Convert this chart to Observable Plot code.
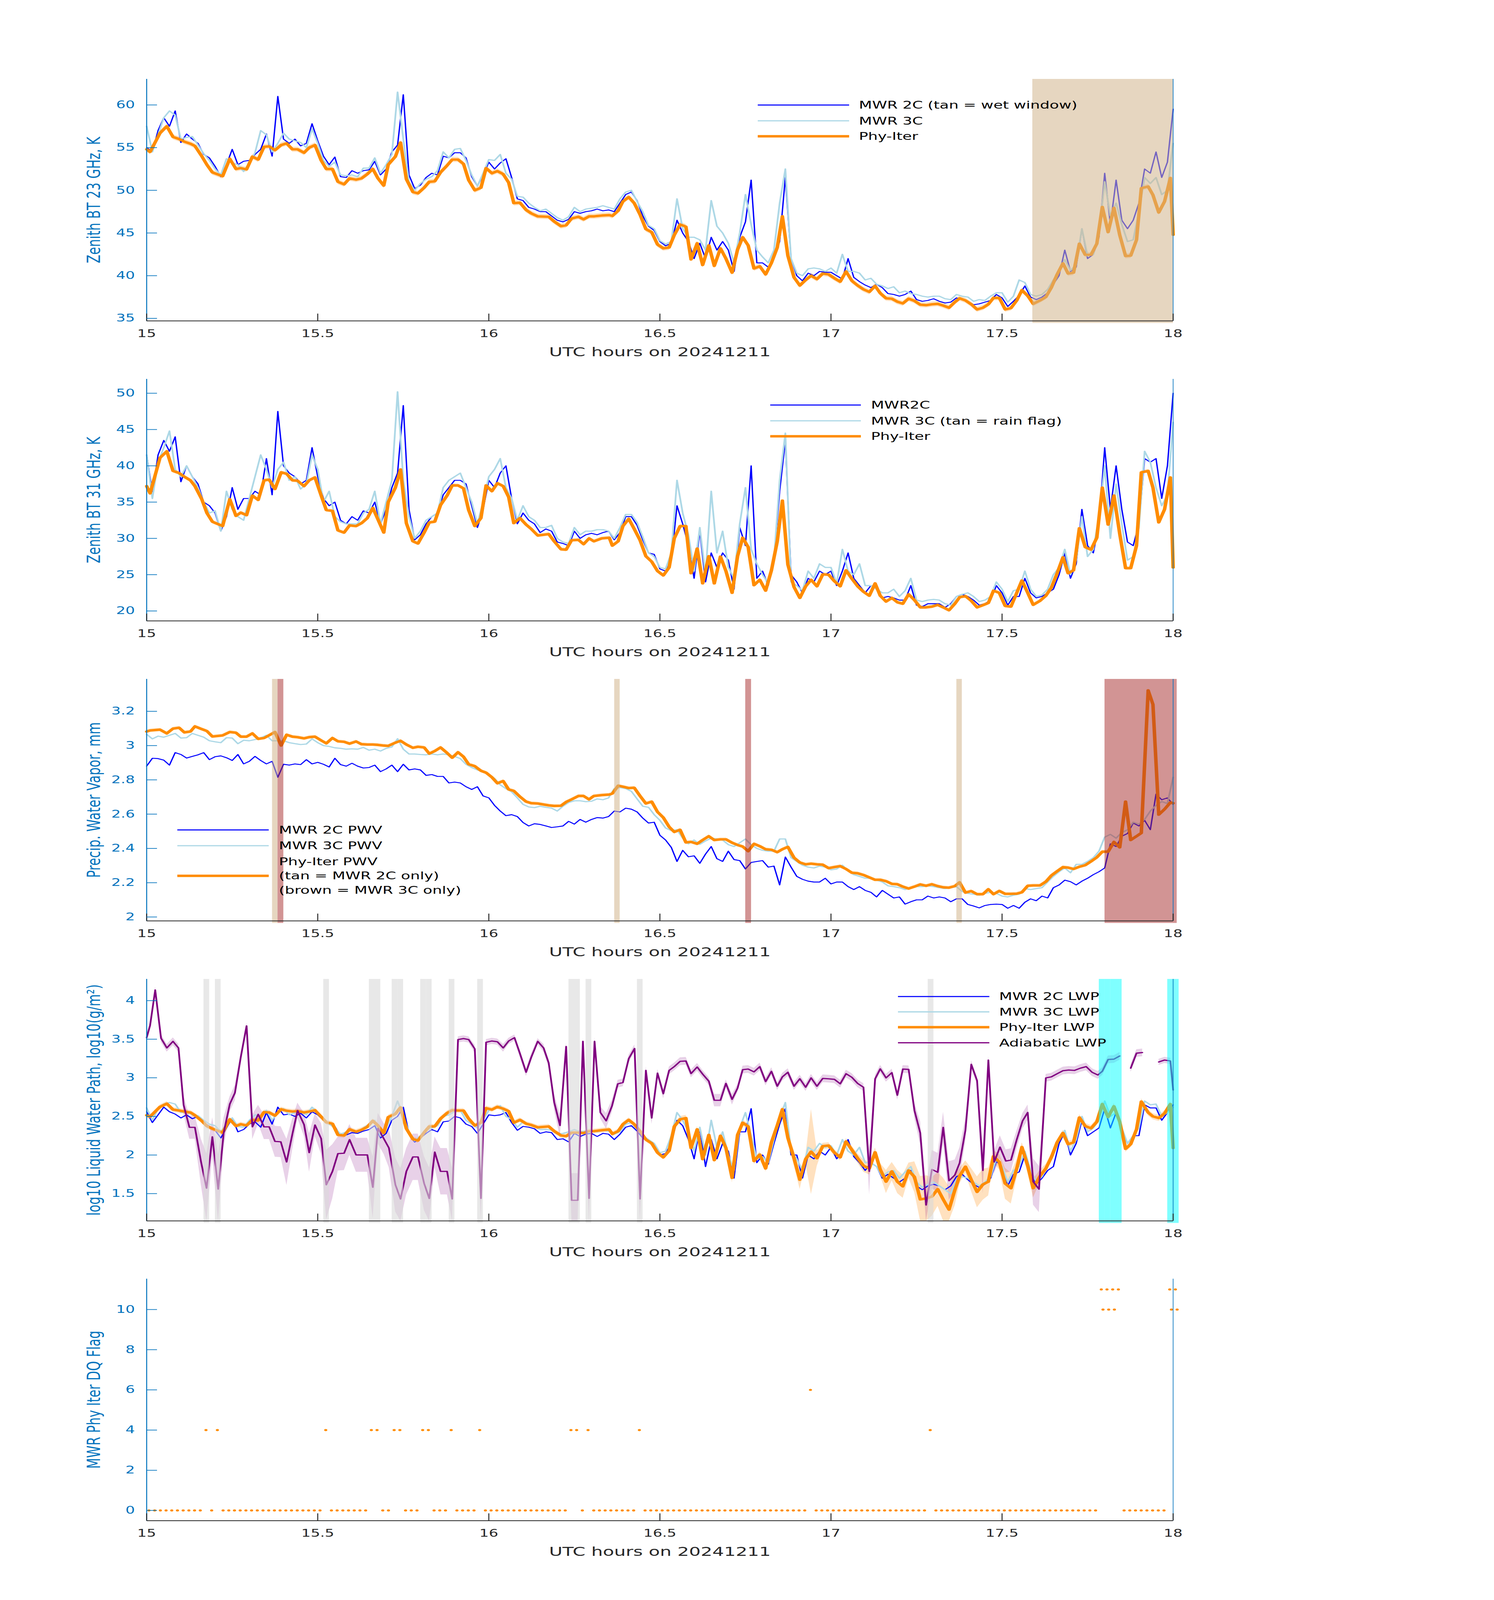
<!DOCTYPE html>
<html><head><meta charset="utf-8">
<script src="https://cdn.jsdelivr.net/npm/d3@7"></script>
<script src="https://cdn.jsdelivr.net/npm/@observablehq/plot@0.6"></script>
<style>
html,body{margin:0;padding:0;background:#fff;overflow:hidden;}
#fig{position:relative;width:3825px;height:6000px;background:#fff;font-family:"DejaVu Sans",sans-serif;overflow:hidden;transform-origin:0 0;}
#fig svg{position:absolute;left:0;overflow:visible;max-width:none;}
</style></head><body><div id="fig"></div>
<script>
const xTicks = [15, 15.5, 16, 16.5, 17, 17.5, 18];
const xLabel = "UTC hours on 20241211";
const phyT = [15.000,15.010,15.039,15.059,15.077,15.095,15.110,15.128,15.141,15.161,15.176,15.192,15.222,15.243,15.261,15.275,15.292,15.309,15.326,15.343,15.358,15.375,15.393,15.409,15.426,15.441,15.460,15.475,15.492,15.510,15.525,15.543,15.559,15.577,15.593,15.612,15.628,15.645,15.661,15.676,15.693,15.706,15.727,15.742,15.759,15.778,15.793,15.811,15.826,15.842,15.859,15.878,15.893,15.910,15.926,15.941,15.959,15.977,15.992,16.009,16.025,16.042,16.058,16.073,16.091,16.109,16.124,16.143,16.175,16.191,16.211,16.226,16.242,16.262,16.277,16.293,16.307,16.330,16.352,16.361,16.378,16.392,16.409,16.425,16.442,16.459,16.476,16.493,16.510,16.527,16.542,16.559,16.576,16.591,16.609,16.625,16.643,16.659,16.677,16.693,16.711,16.727,16.742,16.758,16.775,16.792,16.809,16.826,16.843,16.858,16.874,16.892,16.909,16.926,16.942,16.959,16.976,16.993,17.010,17.027,17.044,17.061,17.078,17.095,17.112,17.129,17.144,17.161,17.178,17.194,17.210,17.227,17.244,17.261,17.278,17.295,17.312,17.328,17.345,17.362,17.376,17.393,17.410,17.427,17.444,17.460,17.475,17.492,17.509,17.526,17.543,17.558,17.575,17.591,17.611,17.628,17.644,17.661,17.678,17.693,17.709,17.726,17.743,17.760,17.777,17.793,17.810,17.827,17.844,17.861,17.876,17.893,17.907,17.927,17.941,17.958,17.975,17.992,18.000];
const phy23 = [54.8,54.5,56.7,57.5,56.25,56.0,55.7,55.45,55.2,54.0,53.0,52.1,51.65,53.7,52.5,52.6,52.45,53.95,53.6,55.1,55.15,54.7,55.3,55.5,54.8,54.8,54.4,55.0,55.3,53.5,52.5,52.5,51.0,50.7,51.4,51.25,51.4,51.9,52.5,51.4,50.55,53.0,53.95,55.6,51.3,49.8,49.65,50.3,51.0,51.05,52.1,52.9,53.6,53.6,53.1,51.2,50.0,50.3,52.6,52.0,52.25,51.9,50.9,48.5,48.55,47.7,47.3,46.95,46.9,46.35,45.8,45.9,46.7,46.9,46.6,46.95,46.95,47.05,47.1,47.0,47.6,48.7,49.2,48.5,47.15,45.45,45.1,43.65,43.2,43.3,44.75,46.0,45.75,41.9,43.8,41.25,43.55,41.15,43.2,42.0,40.35,43.05,44.5,43.55,40.85,41.1,40.15,41.5,43.3,46.95,42.35,39.8,38.85,39.5,40.0,39.6,40.25,40.15,39.7,39.3,40.5,39.4,38.85,38.4,38.1,38.8,37.95,37.35,37.3,36.95,36.75,37.3,37.05,36.6,36.55,36.65,36.7,36.5,36.25,36.9,37.35,37.1,36.65,36.05,36.25,36.65,37.4,37.4,36.05,36.2,37.1,38.3,37.65,36.7,37.1,37.5,38.6,40.15,41.45,40.25,40.35,43.75,42.45,42.45,43.75,48.05,45.1,47.95,44.75,42.3,42.35,44.2,50.25,50.45,49.45,47.4,48.7,51.45,44.8];
const phy31 = [37.2,36.2,41.1,42.0,39.3,39.0,38.5,38.0,37.2,35.4,33.5,32.3,31.7,35.4,33.1,33.55,33.2,35.9,35.3,38.0,38.1,36.8,39.1,38.9,38.0,37.95,37.2,38.0,38.4,35.9,33.9,33.8,31.1,30.8,31.8,31.7,32.1,32.8,34.2,32.6,30.8,35.0,37.0,39.5,32.1,29.6,29.3,30.8,32.2,32.3,34.6,35.9,37.3,37.3,36.9,33.9,31.7,32.8,37.3,36.5,37.6,37.2,35.7,32.1,32.8,31.9,31.3,30.4,30.6,29.6,28.5,28.45,29.75,29.8,29.2,30.0,29.6,30.0,30.1,29.0,29.6,31.7,32.7,31.3,29.75,27.55,26.8,25.5,24.9,26.0,30.0,31.7,31.7,25.2,28.6,23.8,27.55,23.8,27.5,25.5,22.5,27.55,30.1,28.8,23.55,24.3,22.8,25.6,29.6,35.2,26.4,23.3,21.8,23.4,24.3,23.4,25.05,25.0,24.1,23.4,25.6,24.45,23.4,22.65,22.1,23.8,22.1,21.3,21.8,21.2,21.0,22.3,21.5,20.5,20.5,20.6,20.85,20.5,20.1,21.0,21.9,22.05,21.4,20.5,20.8,21.1,22.8,22.5,20.7,20.6,22.5,24.2,22.5,20.85,21.4,22.1,23.2,25.2,27.4,25.2,25.6,31.4,28.8,28.45,30.1,37.0,31.9,35.9,30.6,25.9,25.9,29.0,39.1,39.3,37.0,32.2,34.0,38.4,26.0];
const phyPwv = [3.082,3.088,3.093,3.071,3.099,3.104,3.077,3.082,3.112,3.096,3.085,3.053,3.059,3.079,3.075,3.052,3.052,3.071,3.039,3.044,3.060,3.079,3.000,3.063,3.052,3.049,3.042,3.049,3.052,3.030,3.013,3.044,3.025,3.022,3.011,3.024,3.008,3.006,3.006,3.004,3.000,2.998,3.017,3.028,3.006,2.987,2.993,2.989,2.953,2.968,2.989,2.957,2.929,2.961,2.935,2.891,2.880,2.853,2.842,2.815,2.780,2.793,2.744,2.736,2.702,2.673,2.664,2.662,2.651,2.648,2.649,2.671,2.686,2.706,2.706,2.686,2.706,2.711,2.714,2.720,2.766,2.760,2.752,2.754,2.706,2.662,2.673,2.613,2.580,2.526,2.496,2.509,2.435,2.438,2.427,2.449,2.471,2.449,2.453,2.453,2.433,2.420,2.411,2.384,2.427,2.413,2.395,2.392,2.378,2.395,2.409,2.346,2.318,2.307,2.311,2.307,2.305,2.285,2.291,2.297,2.280,2.258,2.255,2.245,2.231,2.217,2.217,2.209,2.193,2.191,2.177,2.166,2.177,2.190,2.182,2.191,2.180,2.173,2.171,2.180,2.202,2.142,2.151,2.133,2.133,2.162,2.133,2.152,2.135,2.135,2.136,2.144,2.182,2.184,2.184,2.206,2.242,2.267,2.291,2.288,2.280,2.293,2.302,2.324,2.348,2.381,2.381,2.438,2.406,2.673,2.449,2.471,2.490,3.322,3.240,2.597,2.629,2.668,2.664];
const phyLwp = [2.515,2.496,2.624,2.665,2.588,2.576,2.563,2.551,2.515,2.442,2.375,2.341,2.290,2.462,2.375,2.399,2.382,2.455,2.447,2.556,2.551,2.510,2.593,2.573,2.563,2.568,2.551,2.563,2.580,2.496,2.423,2.406,2.261,2.253,2.333,2.302,2.326,2.365,2.442,2.382,2.285,2.491,2.532,2.617,2.341,2.205,2.188,2.292,2.370,2.370,2.471,2.544,2.580,2.576,2.576,2.471,2.382,2.418,2.607,2.588,2.624,2.600,2.568,2.418,2.455,2.406,2.389,2.358,2.370,2.309,2.253,2.244,2.290,2.290,2.285,2.309,2.309,2.321,2.331,2.273,2.309,2.399,2.455,2.399,2.309,2.200,2.152,2.031,1.970,2.055,2.370,2.462,2.479,2.091,2.333,1.946,2.261,1.934,2.249,2.091,1.704,2.261,2.418,2.370,1.922,2.006,1.825,2.164,2.382,2.593,2.224,1.958,1.679,1.946,2.043,1.958,2.115,2.123,2.031,1.970,2.176,2.067,1.958,1.861,1.825,2.035,1.813,1.655,1.788,1.655,1.594,1.800,1.716,1.425,1.437,1.461,1.558,1.425,1.292,1.546,1.728,1.849,1.679,1.522,1.619,1.655,1.982,1.909,1.631,1.570,1.825,2.103,1.861,1.570,1.728,1.825,1.970,2.164,2.285,2.140,2.164,2.486,2.375,2.346,2.430,2.660,2.491,2.631,2.430,2.080,2.140,2.333,2.692,2.550,2.500,2.479,2.539,2.660,2.091];
const phyLwpErr = [.03,.03,.03,.03,.03,.03,.03,.03,.03,.03,.03,.03,.03,.03,.03,.03,.03,.03,.03,.03,.03,.03,.03,.03,.03,.03,.03,.03,.03,.03,.03,.03,.03,.03,.03,.03,.03,.03,.03,.03,.03,.03,.03,.03,.03,.03,.03,.03,.03,.03,.03,.03,.03,.03,.03,.03,.03,.03,.03,.03,.03,.03,.03,.03,.03,.03,.03,.03,.03,.03,.03,.03,.03,.03,.03,.03,.03,.03,.03,.03,.03,.03,.03,.03,.03,.03,.03,.03,.03,.03,.04,.04,.04,.04,.04,.04,.04,.04,.04,.04,.06,.04,.04,.04,.04,.04,.04,.04,.04,.04,.05,.10,.12,.06,.55,.10,.04,.04,.04,.04,.04,.05,.06,.08,.08,.06,.08,.15,.12,.15,.15,.10,.20,.30,.30,.25,.22,.28,.30,.20,.10,.08,.15,.20,.20,.18,.08,.10,.20,.20,.12,.06,.10,.12,.08,.06,.05,.04,.04,.04,.04,.04,.04,.04,.04,.04,.04,.04,.04,.04,.04,.04,.04,.04,.04,.04,.04,.04,.04];
const bt23_2C = [55.0,54.5,57.0,58.5,57.5,59.3,55.6,56.6,56.0,55.5,54.2,53.8,52.8,51.6,53.0,54.8,53.0,53.4,53.5,54.2,54.8,56.6,54.0,61.0,56.0,55.5,56.0,55.2,55.5,57.8,55.8,54.0,53.0,53.9,51.6,51.5,52.3,52.0,52.3,52.4,53.4,51.8,52.5,54.5,55.3,61.2,51.8,50.2,50.6,51.5,52.0,51.8,54.0,53.8,54.4,54.4,53.8,51.6,50.5,51.8,53.3,52.5,53.2,53.7,51.5,49.0,48.8,48.0,47.8,47.5,47.5,47.0,46.5,46.3,46.6,47.5,47.3,47.5,47.6,47.8,47.6,47.7,47.5,48.5,49.5,49.8,48.8,47.0,45.8,45.3,44.0,43.5,43.8,46.5,45.0,44.0,42.0,43.8,42.0,44.5,43.0,44.0,43.0,40.5,44.5,46.3,51.2,41.5,41.5,41.0,42.0,44.0,51.5,42.0,40.0,39.4,40.3,40.0,40.5,40.4,40.4,40.0,39.6,42.0,39.8,39.3,38.9,38.6,39.0,38.6,37.9,37.8,37.6,37.8,38.2,37.2,37.0,37.1,37.3,37.0,36.8,36.9,37.4,37.2,37.0,36.6,36.7,36.9,37.1,37.8,37.4,36.4,37.0,37.7,38.8,37.5,37.2,37.5,38.0,39.0,40.0,43.0,40.5,41.0,45.5,42.0,42.5,44.5,52.0,46.0,51.2,46.5,45.5,46.5,48.5,52.5,52.0,54.5,51.5,53.3,59.5];
const bt23_3C = [57.5,54.5,56.5,58.5,59.3,58.8,56.0,56.2,56.3,55.3,54.3,53.5,52.5,51.8,53.7,53.2,53.0,52.2,53.2,54.4,57.0,56.5,54.5,55.5,56.7,56.0,55.8,55.6,55.0,57.2,55.5,53.5,52.8,53.3,51.8,51.7,51.8,51.6,52.6,52.6,53.8,52.0,53.0,54.2,61.5,56.0,51.0,50.0,50.8,51.3,51.6,52.3,54.5,53.8,54.8,54.9,53.5,51.8,50.5,52.0,53.6,53.5,54.2,52.0,51.3,49.3,49.2,48.5,48.0,47.6,47.8,47.3,46.8,46.5,46.9,48.0,47.5,47.8,47.9,48.0,48.2,48.0,47.8,49.0,49.8,50.0,48.7,47.5,45.9,45.5,44.1,43.7,44.0,49.0,45.5,44.5,44.5,44.2,43.0,48.8,45.8,45.0,43.8,41.5,45.0,49.5,46.0,43.0,42.2,41.5,43.0,48.5,52.5,42.0,40.3,40.0,40.8,40.9,40.8,40.5,40.9,40.3,42.5,40.5,40.5,40.3,39.5,39.7,39.0,38.8,38.5,38.7,38.0,38.2,37.9,37.8,37.6,37.5,37.6,37.6,37.3,37.2,37.8,37.6,37.5,37.0,37.2,37.1,37.6,38.0,38.0,36.9,37.6,39.5,39.2,37.8,37.6,37.8,38.4,39.5,40.5,41.9,40.6,41.3,45.5,42.3,42.5,45.0,51.0,47.0,48.5,46.0,44.0,44.2,47.5,51.5,50.8,51.5,49.5,50.0,55.5];
const bt31_2C = [41.5,36.3,41.5,43.5,42.0,44.0,37.8,40.0,38.5,37.5,35.0,34.5,33.5,31.0,33.0,37.0,34.0,35.5,35.5,36.5,36.0,41.0,36.0,47.5,40.0,39.0,38.5,37.5,38.0,42.5,38.5,35.5,34.5,35.0,32.5,32.0,33.0,32.5,33.8,33.5,35.0,32.0,34.0,37.0,39.0,48.3,34.0,29.8,30.5,32.0,33.0,33.5,36.0,37.0,38.0,38.0,37.5,34.5,31.5,34.0,38.0,37.0,39.0,40.0,35.5,32.0,33.5,32.5,32.0,30.8,31.3,31.0,29.5,29.3,29.0,31.0,30.0,30.5,30.7,30.5,30.8,31.0,29.8,30.8,33.0,33.0,31.8,29.8,28.0,27.8,25.8,25.5,27.0,34.5,32.0,29.0,24.5,31.0,24.0,28.0,26.0,28.0,27.0,23.0,31.5,29.0,40.0,24.5,25.5,23.5,27.0,36.5,43.5,25.0,24.0,22.5,24.5,24.0,25.5,25.0,25.5,23.5,25.5,28.0,24.5,23.5,22.5,23.5,23.3,21.8,22.0,21.8,21.5,21.5,23.5,20.8,20.6,21.0,21.0,21.0,20.5,21.0,22.0,22.3,22.0,21.5,20.8,21.0,21.5,23.5,22.5,20.8,22.0,22.0,24.5,22.5,21.8,22.0,22.5,23.0,25.0,28.0,24.5,26.5,34.0,29.0,28.0,32.0,42.5,34.0,40.0,34.0,29.5,29.0,32.0,41.0,40.5,41.0,35.5,40.0,50.0];
const bt31_3C = [41.5,35.5,40.5,42.5,44.8,39.5,38.5,40.0,38.5,37.0,35.0,33.5,33.8,31.0,36.5,34.0,33.0,32.5,35.5,38.5,41.5,39.5,37.0,39.5,40.5,38.0,38.5,36.8,37.5,41.5,39.5,35.0,36.5,33.0,32.3,32.0,32.0,32.0,33.5,34.0,36.5,32.0,35.0,38.0,50.2,38.0,33.0,30.0,31.0,32.5,33.0,33.5,37.0,38.0,38.5,39.0,37.0,35.0,32.0,35.0,38.5,39.5,41.0,37.0,35.5,32.5,34.5,33.0,32.5,31.5,31.5,31.8,30.0,29.5,29.3,31.5,30.5,31.0,31.0,31.2,31.2,31.0,30.0,31.5,33.3,33.3,32.2,30.2,28.0,27.5,26.0,25.8,28.0,38.0,33.5,30.5,25.5,31.5,25.0,36.5,28.0,31.0,26.0,24.5,32.0,37.0,28.5,26.5,25.0,23.8,27.0,38.0,44.5,24.0,23.5,22.8,25.5,24.5,26.5,26.0,26.0,23.8,28.5,25.5,25.0,26.5,23.5,23.5,23.0,22.5,22.5,23.0,22.0,22.8,24.5,21.5,21.3,21.5,21.6,21.5,21.0,20.8,22.0,22.3,22.5,22.0,21.3,21.5,22.0,24.0,23.0,21.3,22.8,23.0,25.5,23.0,22.0,22.2,23.0,25.0,26.0,28.5,25.0,27.0,33.0,27.5,28.5,33.0,40.0,30.0,37.5,32.0,27.0,27.5,31.5,42.0,40.5,37.0,34.5,36.0,46.0];
const pwv_2C = [2.880,2.926,2.924,2.915,2.886,2.959,2.948,2.927,2.937,2.946,2.959,2.918,2.935,2.940,2.929,2.913,2.948,2.893,2.908,2.937,2.913,2.893,2.908,2.815,2.891,2.886,2.893,2.889,2.918,2.893,2.902,2.891,2.875,2.926,2.889,2.880,2.897,2.880,2.869,2.872,2.886,2.848,2.864,2.886,2.848,2.891,2.858,2.864,2.858,2.826,2.831,2.820,2.820,2.782,2.787,2.782,2.760,2.744,2.760,2.706,2.695,2.651,2.618,2.591,2.597,2.586,2.551,2.531,2.544,2.540,2.531,2.522,2.526,2.531,2.558,2.542,2.569,2.553,2.569,2.580,2.577,2.586,2.618,2.613,2.635,2.629,2.613,2.577,2.548,2.553,2.477,2.449,2.406,2.324,2.389,2.351,2.357,2.313,2.367,2.411,2.340,2.324,2.384,2.335,2.329,2.280,2.318,2.324,2.329,2.291,2.297,2.187,2.350,2.291,2.237,2.220,2.209,2.204,2.204,2.226,2.193,2.204,2.204,2.177,2.160,2.177,2.155,2.144,2.117,2.155,2.133,2.111,2.117,2.075,2.089,2.100,2.100,2.122,2.111,2.117,2.111,2.089,2.106,2.106,2.073,2.064,2.053,2.067,2.073,2.075,2.073,2.051,2.067,2.051,2.086,2.106,2.095,2.122,2.111,2.171,2.187,2.215,2.206,2.187,2.209,2.226,2.247,2.264,2.286,2.427,2.411,2.471,2.487,2.548,2.531,2.564,2.509,2.717,2.684,2.695,2.657];
const pwv_3C = [3.066,3.039,3.055,3.049,3.060,3.071,3.044,3.046,3.071,3.060,3.049,3.028,3.022,3.017,3.046,3.044,3.011,3.031,3.028,3.035,3.044,3.060,3.028,3.028,3.028,3.017,3.011,3.006,3.009,3.039,3.017,3.000,2.995,2.987,2.984,2.979,2.981,2.979,2.989,2.973,2.979,2.968,2.984,2.992,3.040,2.979,2.951,2.951,2.948,2.946,2.951,2.946,2.951,2.946,2.937,2.924,2.891,2.872,2.858,2.848,2.831,2.809,2.771,2.749,2.730,2.695,2.657,2.642,2.638,2.646,2.640,2.635,2.618,2.646,2.668,2.678,2.678,2.673,2.675,2.689,2.684,2.695,2.749,2.755,2.749,2.733,2.689,2.646,2.640,2.597,2.564,2.519,2.504,2.509,2.460,2.427,2.449,2.424,2.444,2.460,2.455,2.449,2.422,2.411,2.433,2.455,2.422,2.400,2.389,2.384,2.384,2.455,2.455,2.346,2.324,2.302,2.291,2.286,2.297,2.291,2.275,2.280,2.302,2.269,2.247,2.237,2.226,2.226,2.215,2.204,2.182,2.177,2.171,2.160,2.171,2.177,2.177,2.182,2.177,2.171,2.166,2.171,2.177,2.149,2.138,2.133,2.127,2.138,2.144,2.138,2.122,2.117,2.127,2.133,2.166,2.160,2.166,2.171,2.204,2.237,2.264,2.286,2.258,2.307,2.307,2.324,2.346,2.384,2.466,2.482,2.460,2.493,2.509,2.553,2.542,2.569,2.618,2.651,2.673,2.662,2.815];
const lwp_2C = [2.56,2.42,2.52,2.62,2.56,2.53,2.48,2.52,2.47,2.50,2.42,2.37,2.32,2.22,2.35,2.48,2.30,2.33,2.40,2.43,2.36,2.55,2.40,2.62,2.52,2.53,2.50,2.54,2.48,2.56,2.52,2.45,2.40,2.37,2.25,2.26,2.29,2.28,2.31,2.33,2.38,2.22,2.28,2.45,2.50,2.62,2.28,2.17,2.22,2.28,2.33,2.30,2.43,2.44,2.50,2.48,2.40,2.37,2.28,2.40,2.52,2.51,2.52,2.55,2.42,2.32,2.37,2.36,2.34,2.28,2.30,2.29,2.20,2.21,2.17,2.28,2.24,2.27,2.28,2.24,2.28,2.27,2.20,2.27,2.36,2.38,2.31,2.22,2.17,2.12,2.00,2.02,2.15,2.45,2.38,2.20,1.95,2.35,1.85,2.20,1.95,2.15,2.05,1.70,2.30,2.30,2.60,1.90,2.00,1.88,2.15,2.40,2.60,2.00,2.00,1.70,2.00,1.95,2.05,2.00,2.10,1.95,2.05,2.20,1.98,1.90,1.80,1.90,1.85,1.70,1.75,1.70,1.65,1.70,1.80,1.60,1.55,1.60,1.62,1.60,1.55,1.60,1.72,1.75,1.68,1.62,1.58,1.62,1.70,1.92,1.85,1.60,1.75,1.78,2.00,1.78,1.62,1.70,1.80,1.85,2.15,2.30,2.00,2.15,2.45,2.25,2.30,2.35,2.60,2.35,2.55,2.30,2.15,2.25,2.25,2.65,2.61,2.61,2.45,2.55,2.65];
const lwp_3C = [2.61,2.45,2.60,2.66,2.68,2.66,2.55,2.56,2.52,2.51,2.45,2.40,2.38,2.30,2.40,2.48,2.37,2.36,2.45,2.52,2.50,2.58,2.45,2.55,2.60,2.52,2.55,2.56,2.52,2.62,2.55,2.47,2.40,2.35,2.27,2.30,2.32,2.30,2.35,2.40,2.45,2.25,2.35,2.50,2.70,2.50,2.30,2.18,2.25,2.32,2.35,2.38,2.50,2.52,2.56,2.58,2.45,2.40,2.35,2.45,2.58,2.60,2.64,2.50,2.46,2.36,2.43,2.40,2.37,2.33,2.33,2.32,2.27,2.28,2.30,2.33,2.30,2.31,2.32,2.30,2.32,2.31,2.27,2.30,2.40,2.42,2.33,2.25,2.20,2.15,2.03,2.05,2.25,2.55,2.45,2.30,2.05,2.36,2.00,2.45,2.10,2.30,2.00,1.80,2.35,2.55,2.25,1.95,1.98,1.90,2.20,2.48,2.68,2.05,1.95,1.80,2.10,2.05,2.15,2.10,2.12,2.00,2.20,2.05,2.00,2.10,1.90,1.90,1.85,1.72,1.78,1.80,1.70,1.78,1.85,1.65,1.58,1.62,1.65,1.60,1.55,1.50,1.68,1.72,1.70,1.65,1.60,1.65,1.72,1.95,1.85,1.65,1.80,1.85,2.05,1.80,1.65,1.72,1.85,2.00,2.20,2.32,2.05,2.20,2.50,2.30,2.35,2.45,2.70,2.50,2.55,2.35,2.15,2.25,2.35,2.70,2.65,2.66,2.50,2.55,2.62];
const adiabaticLwp = [[15.000,3.520,.05],[15.010,3.678,.05],[15.025,4.138,.04],[15.042,3.513,.05],[15.059,3.387,.05],[15.077,3.472,.05],[15.093,3.387,.05],[15.108,2.648,.12],[15.125,2.358,.15],[15.141,2.358,.15],[15.159,1.909,.3],[15.175,1.570,.45],[15.192,2.236,.25],[15.209,1.558,.45],[15.225,2.285,.2],[15.243,2.660,.1],[15.258,2.806,.1],[15.275,3.266,.06],[15.292,3.673,.04],[15.309,2.365,.16],[15.326,2.527,.12],[15.343,2.365,.16],[15.358,2.365,.16],[15.375,2.176,.2],[15.392,2.171,.2],[15.409,1.909,.3],[15.426,2.273,.2],[15.441,2.576,.1],[15.460,2.394,.15],[15.475,2.031,.25],[15.492,2.389,.15],[15.510,2.212,.2],[15.525,1.614,.45],[15.543,1.788,.35],[15.559,2.018,.22],[15.577,2.023,.22],[15.593,2.200,.2],[15.612,2.001,.22],[15.628,2.001,.22],[15.645,2.001,.22],[15.661,1.582,.4],[15.676,2.345,.2],[15.693,2.212,.2],[15.708,2.091,.25],[15.727,1.614,.35],[15.742,1.430,.4],[15.759,1.788,.3],[15.778,1.975,.3],[15.793,1.975,.3],[15.811,1.631,.35],[15.826,1.437,.4],[15.842,2.038,.2],[15.859,1.788,.3],[15.878,1.788,.3],[15.893,1.430,.4],[15.910,3.496,.04],[15.926,3.508,.04],[15.941,3.496,.04],[15.959,3.375,.05],[15.977,1.437,.35],[15.992,3.460,.04],[16.009,3.477,.04],[16.025,3.467,.04],[16.042,3.387,.05],[16.058,3.477,.04],[16.075,3.520,.04],[16.091,3.314,.05],[16.109,3.072,.05],[16.124,3.266,.05],[16.143,3.472,.04],[16.160,3.387,.05],[16.175,3.193,.05],[16.191,2.685,.1],[16.208,2.382,.15],[16.226,3.406,.05],[16.242,1.413,.35],[16.260,1.413,.35],[16.275,3.472,.04],[16.293,1.437,.35],[16.309,3.472,.05],[16.326,2.551,.08],[16.343,2.442,.1],[16.360,2.636,.08],[16.377,2.922,.05],[16.392,2.939,.05],[16.409,3.249,.05],[16.426,3.380,.05],[16.442,1.430,.35],[16.459,3.096,.05],[16.476,2.479,.08],[16.493,3.060,.05],[16.510,2.794,.06],[16.527,3.096,.05],[16.542,3.145,.05],[16.559,3.213,.05],[16.576,3.218,.05],[16.591,3.055,.05],[16.609,3.140,.05],[16.625,3.048,.05],[16.643,2.956,.05],[16.659,2.709,.08],[16.677,2.709,.08],[16.693,2.927,.05],[16.711,2.721,.07],[16.727,2.866,.05],[16.742,3.106,.05],[16.758,3.113,.05],[16.775,3.077,.05],[16.792,3.145,.05],[16.809,2.951,.05],[16.826,3.084,.05],[16.843,2.891,.05],[16.858,3.012,.05],[16.874,3.072,.05],[16.892,2.891,.05],[16.909,2.988,.05],[16.926,2.878,.05],[16.942,2.999,.05],[16.959,2.891,.05],[16.976,2.992,.05],[16.993,2.987,.05],[17.010,2.980,.05],[17.027,2.922,.05],[17.044,3.053,.05],[17.061,3.007,.05],[17.078,2.927,.05],[17.095,2.878,.05],[17.112,1.788,.3],[17.129,2.987,.05],[17.144,3.116,.05],[17.161,2.999,.05],[17.178,3.067,.05],[17.194,2.774,.06],[17.210,3.113,.05],[17.227,3.109,.05],[17.244,2.576,.1],[17.261,2.285,.15],[17.278,1.352,.25],[17.295,1.813,.25],[17.312,1.776,.25],[17.328,2.358,.2],[17.345,1.667,.25],[17.362,1.740,.2],[17.376,1.897,.2],[17.393,2.321,.15],[17.410,3.174,.05],[17.427,2.964,.05],[17.444,1.800,.3],[17.460,3.230,.05],[17.477,1.909,.15],[17.494,2.103,.15],[17.511,1.922,.15],[17.526,1.934,.15],[17.543,2.200,.12],[17.560,2.442,.1],[17.575,2.551,.1],[17.591,1.655,.3],[17.608,1.558,.3],[17.628,2.999,.05],[17.644,3.012,.05],[17.661,3.053,.05],[17.678,3.092,.05],[17.695,3.101,.05],[17.712,3.096,.05],[17.729,3.125,.05],[17.746,3.145,.05],[17.763,3.072,.05],[17.780,3.036,.05],[17.793,3.084,.05],[17.810,3.237,.05],[17.827,3.242,.05],[17.844,3.283,.05],[17.852,NaN,0],[17.876,3.125,.05],[17.893,3.319,.05],[17.910,3.327,.05],[17.930,NaN,0],[17.958,3.205,.04],[17.975,3.230,.04],[17.992,3.218,.04],[18.000,2.842,.05]];
const dqFlag = [0,0,0,0,0,0,0,0,0,0,4,0,4,0,0,0,0,0,0,0,0,0,0,0,0,0,0,0,0,0,0,4,0,0,0,0,0,0,0,4,4,0,0,4,4,0,0,0,4,4,0,0,0,4,0,0,0,0,4,0,0,0,0,0,0,0,0,0,0,0,0,0,0,0,4,4,0,4,0,0,0,0,0,0,0,0,4,0,0,0,0,0,0,0,0,0,0,0,0,0,0,0,0,0,0,0,0,0,0,0,0,0,0,0,0,0,6,0,0,0,0,0,0,0,0,0,0,0,0,0,0,0,0,0,0,0,0,4,0,0,0,0,0,0,0,0,0,0,0,0,0,0,0,0,0,0,0,0,0,0,0,0,0,0,0,0,0,11,11,11,11,0,0,0,0,0,0,0,0,11,11];
const dqFlagExtra = [[167,10],[168,10],[169,10],[179,10],[180,10]];
const wetWindow23 = [[17.589, 18.0]];
const tanPwv = [[15.367,15.383],[16.367,16.383],[17.367,17.383]];
const brownPwv = [[15.383,15.400],[16.750,16.767],[17.800,18.011]];

const W = 3825, ML = 375, MR = 822, MT = 150, MB = 250, FH = 907, PAGE_H = 6000;
const fig = document.getElementById("fig");
// the photographed window may be shorter than the figure: fit the figure to it
const fitY = Math.min(1, (window.innerHeight || PAGE_H) / PAGE_H);
if (fitY < 1) fig.style.transform = "scale(1," + fitY + ")";

const minute = (arr) => arr.map((v, i) => ({t: 15 + i / 60, v}));
const nodes = (arr, err) => arr.map((v, i) => ({t: phyT[i], v, e: typeof err === "number" ? err : err[i]}));
const C_BLUE = "#0000FF", C_LB = "#ADD8E6", C_OR = "#FF8C00", C_PU = "#800080", C_AX = "#0072BD", C_DK = "#262626";

function panel({top, ydom, yticks, ylabel, marks}) {
  const [y0, y1] = ydom;
  const tdy = (y1 - y0) * 27 / FH;
  const tdx = 3 * 27 / (W - ML - MR);
  const svg = Plot.plot({
    width: W, height: MT + FH + MB,
    marginTop: MT, marginBottom: MB, marginLeft: ML, marginRight: MR,
    style: {fontFamily: "DejaVu Sans", fontSize: "38px", background: "transparent", overflow: "visible", maxWidth: "none"},
    x: {domain: [15, 18]},
    y: {domain: ydom},
    marks: [
      ...marks(y0, y1),
      Plot.ruleY([y0], {stroke: C_DK, strokeWidth: 3}),
      Plot.ruleX([15], {stroke: C_AX, strokeWidth: 2.5}),
      Plot.ruleX([18], {stroke: C_AX, strokeWidth: 2, strokeOpacity: 0.85}),
      Plot.ruleX(xTicks, {y1: () => y0, y2: () => y0 + tdy, stroke: C_DK, strokeWidth: 2.5}),
      Plot.ruleY(yticks, {x1: () => 15, x2: () => 15 + tdx, stroke: C_AX, strokeWidth: 2.5}),
      Plot.axisX({ticks: xTicks, tickSize: 0, tickPadding: 33, fontSize: 38, color: C_DK, label: null, tickFormat: d => String(d)}),
      Plot.axisY({ticks: yticks, tickSize: 0, tickPadding: 30, fontSize: 38, color: C_AX, label: null, tickFormat: d => String(d)}),
      Plot.text([ylabel], {text: d => d, frameAnchor: "left", rotate: -90, dx: -135, fontSize: 47, fill: C_AX, textAnchor: "middle", lineAnchor: "middle"}),
      Plot.text([xLabel], {text: d => d, frameAnchor: "bottom", dy: 117, fontSize: 47, fill: C_DK, lineAnchor: "middle"})
    ]
  });
  svg.style.top = (top - MT) + "px";
  fig.appendChild(svg);
  return svg;
}
function legend(svg, top, x1, x2, tx, items) {
  const off = top - MT;
  const g = d3.select(svg).append("g").attr("font-family", "DejaVu Sans").attr("font-size", 39).attr("text-anchor", "start");
  for (const it of items) {
    const y = it.y - off;
    if (it.stroke) g.append("line").attr("x1", x1).attr("x2", x2).attr("y1", y).attr("y2", y).attr("stroke", it.stroke).attr("stroke-width", it.w);
    if (it.text) g.append("text").attr("x", tx).attr("y", y).attr("dy", "0.35em").attr("fill", "#000").attr("text-anchor", "start").text(it.text);
  }
}
const below = (y0, y1) => y0 - (y1 - y0) * 8 / FH;

const P1top = 296;
const s1 = panel({top: P1top, ydom: [34.70, 63.03], yticks: [35, 40, 45, 50, 55, 60], ylabel: "Zenith BT 23 GHz, K",
  marks: (y0, y1) => [
    Plot.areaY(nodes(phy23, 0.3), {x: "t", y1: d => d.v - d.e, y2: d => d.v + d.e, fill: "#FFDCB4", fillOpacity: 0.85}),
    Plot.line(minute(bt23_2C), {x: "t", y: "v", stroke: C_BLUE, strokeWidth: 3.5}),
    Plot.line(minute(bt23_3C), {x: "t", y: "v", stroke: C_LB, strokeWidth: 4.5}),
    Plot.line(nodes(phy23, 0.3), {x: "t", y: "v", stroke: C_OR, strokeWidth: 9, strokeLinejoin: "round"}),
    Plot.rect(wetWindow23, {x1: d => d[0], x2: d => d[1], y1: () => below(y0, y1), y2: () => y1, fill: "rgb(210,180,140)", fillOpacity: 0.55})
  ]});
legend(s1, P1top, 1940, 2174, 2199, [
  {y: 394, stroke: C_BLUE, w: 4, text: "MWR 2C (tan = wet window)"},
  {y: 453, stroke: C_LB, w: 4.5, text: "MWR 3C"},
  {y: 511, stroke: C_OR, w: 9, text: "Phy-Iter"}]);

const P2top = 1421;
const s2 = panel({top: P2top, ydom: [18.63, 51.95], yticks: [20, 25, 30, 35, 40, 45, 50], ylabel: "Zenith BT 31 GHz, K",
  marks: () => [
    Plot.areaY(nodes(phy31, 0.25), {x: "t", y1: d => d.v - d.e, y2: d => d.v + d.e, fill: "#FFDCB4", fillOpacity: 0.85}),
    Plot.line(minute(bt31_2C), {x: "t", y: "v", stroke: C_BLUE, strokeWidth: 3.5}),
    Plot.line(minute(bt31_3C), {x: "t", y: "v", stroke: C_LB, strokeWidth: 4.5}),
    Plot.line(nodes(phy31, 0.25), {x: "t", y: "v", stroke: C_OR, strokeWidth: 9, strokeLinejoin: "round"})
  ]});
legend(s2, P2top, 1972, 2204, 2230, [
  {y: 1519, stroke: C_BLUE, w: 4, text: "MWR2C"},
  {y: 1578, stroke: C_LB, w: 4.5, text: "MWR 3C (tan = rain flag)"},
  {y: 1636, stroke: C_OR, w: 9, text: "Phy-Iter"}]);

const P3top = 2545.6;
const s3 = panel({top: P3top, ydom: [1.977, 3.388], yticks: [2, 2.2, 2.4, 2.6, 2.8, 3, 3.2], ylabel: "Precip. Water Vapor, mm",
  marks: (y0, y1) => [
    Plot.areaY(nodes(phyPwv, 0.01), {x: "t", y1: d => d.v - d.e, y2: d => d.v + d.e, fill: "#FFDCB4", fillOpacity: 0.85}),
    Plot.line(minute(pwv_2C), {x: "t", y: "v", stroke: C_BLUE, strokeWidth: 3.5}),
    Plot.line(minute(pwv_3C), {x: "t", y: "v", stroke: C_LB, strokeWidth: 4.5}),
    Plot.line(nodes(phyPwv, 0.01), {x: "t", y: "v", stroke: C_OR, strokeWidth: 9, strokeLinejoin: "round"}),
    Plot.rect(tanPwv, {x1: d => d[0], x2: d => d[1], y1: () => below(y0, y1), y2: () => y1, fill: "rgb(210,180,140)", fillOpacity: 0.55}),
    Plot.rect(brownPwv, {x1: d => d[0], x2: d => d[1], y1: () => below(y0, y1), y2: () => y1, fill: "rgb(165,42,42)", fillOpacity: 0.5})
  ]});
legend(s3, P3top, 454, 688, 714, [
  {y: 3112, stroke: C_BLUE, w: 4, text: "MWR 2C PWV"},
  {y: 3171, stroke: C_LB, w: 4.5, text: "MWR 3C PWV"},
  {y: 3230, text: "Phy-Iter PWV"},
  {y: 3284, stroke: C_OR, w: 9, text: "(tan = MWR 2C only)"},
  {y: 3338, text: "(brown = MWR 3C only)"}]);

const grayBands = dqFlag.map((f, m) => f === 4 ? [15 + m / 60, 15 + (m + 1) / 60] : null).filter(Boolean);
const cyanBands = dqFlag.map((f, m) => f >= 10 ? [15 + m / 60, 15 + (m + 1) / 60] : null).filter(Boolean);
const adiaRows = adiabaticLwp.map(([t, v, e]) => ({t, v, e}));
const P4top = 3670.5;
const s4 = panel({top: P4top, ydom: [1.146, 4.279], yticks: [1.5, 2, 2.5, 3, 3.5, 4], ylabel: "log10 Liquid Water Path, log10(g/m\u00B2)",
  marks: (y0, y1) => [
    Plot.areaY(nodes(phyLwp, phyLwpErr), {x: "t", y1: d => Math.max(y0, d.v - d.e), y2: d => d.v + d.e, fill: "#FFDCB4", fillOpacity: 0.85}),
    Plot.areaY(adiaRows, {x: "t", y1: d => Math.max(y0, d.v - d.e), y2: d => d.v + d.e, fill: C_PU, fillOpacity: 0.18}),
    Plot.line(minute(lwp_2C), {x: "t", y: "v", stroke: C_BLUE, strokeWidth: 3.5}),
    Plot.line(minute(lwp_3C), {x: "t", y: "v", stroke: C_LB, strokeWidth: 4.5}),
    Plot.line(nodes(phyLwp, phyLwpErr), {x: "t", y: "v", stroke: C_OR, strokeWidth: 9, strokeLinejoin: "round"}),
    Plot.line(adiaRows, {x: "t", y: "v", stroke: C_PU, strokeWidth: 4.5}),
    Plot.rect(grayBands, {x1: d => d[0], x2: d => d[1], y1: () => below(y0, y1), y2: () => y1, fill: "#D9D9D9", fillOpacity: 0.6}),
    Plot.rect(cyanBands, {x1: d => d[0], x2: d => d[1], y1: () => below(y0, y1), y2: () => y1, fill: "#00FFFF", fillOpacity: 0.5})
  ]});
legend(s4, P4top, 2299, 2533, 2558, [
  {y: 3736.5, stroke: C_BLUE, w: 4, text: "MWR 2C LWP"},
  {y: 3794, stroke: C_LB, w: 4.5, text: "MWR 3C LWP"},
  {y: 3851.5, stroke: C_OR, w: 9, text: "Phy-Iter LWP"},
  {y: 3910, stroke: C_PU, w: 4.5, text: "Adiabatic LWP"}]);

const flagRows = dqFlag.map((f, m) => ({t: 15 + (m + 0.4) / 60, v: f}))
  .concat(dqFlagExtra.map(([m, f]) => ({t: 15 + (m + 0.7) / 60, v: f})));
panel({top: 4794.5, ydom: [-0.51, 11.53], yticks: [0, 2, 4, 6, 8, 10], ylabel: "MWR Phy Iter DQ Flag",
  marks: () => [Plot.dot(flagRows, {x: "t", y: "v", r: 4, fill: C_OR, stroke: "none"})]});
</script></body></html>
